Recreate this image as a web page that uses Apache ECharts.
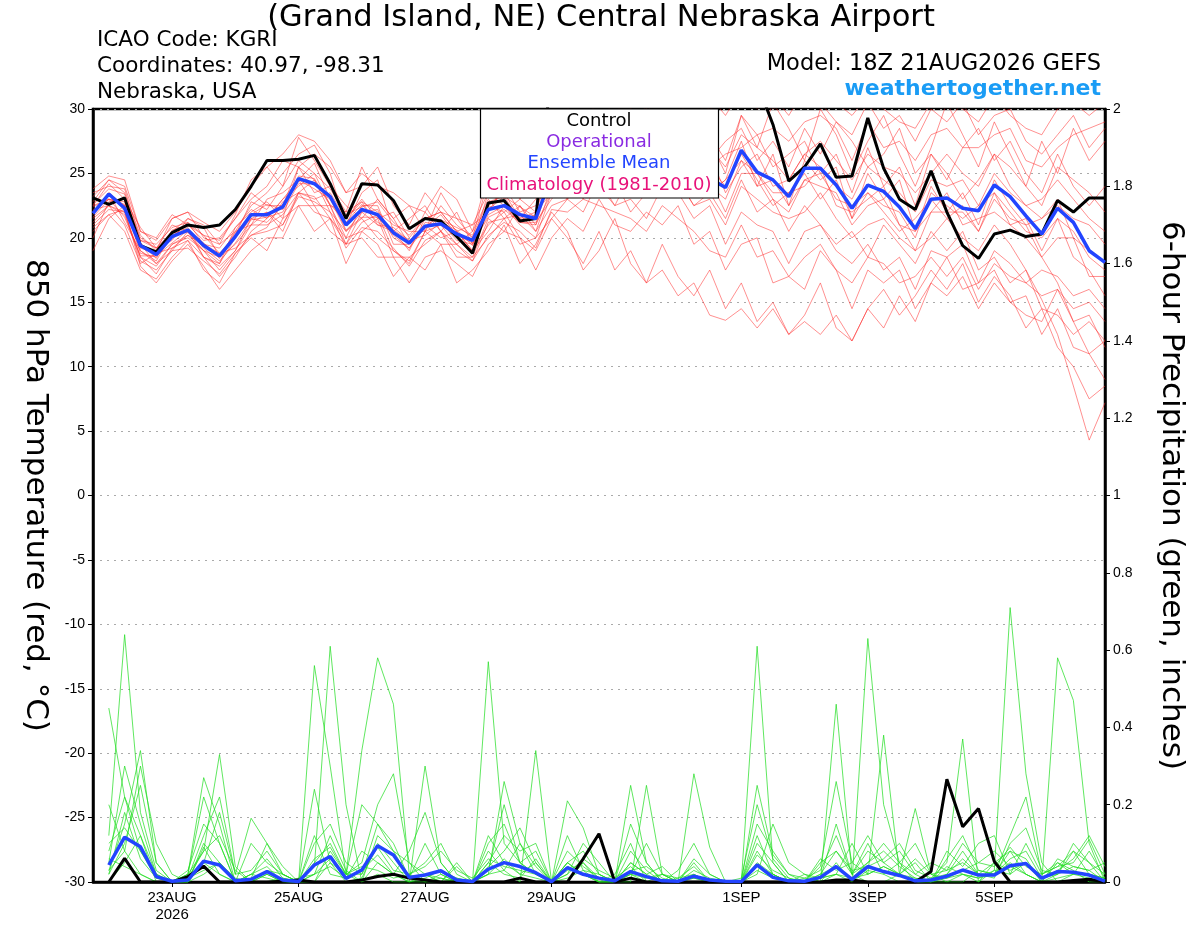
<!DOCTYPE html>
<html><head><meta charset="utf-8">
<script src="https://cdn.jsdelivr.net/npm/echarts@6/dist/echarts.min.js"></script>
<style>html,body{margin:0;padding:0;background:#fff}#c{width:1200px;height:927px}</style>
</head><body><div id="c"></div>
<script>
// ---- time categories (6-hourly, 21AUG2026 18Z .. 7SEP2026 18Z) ----
var dayNames = ['21AUG','22AUG','23AUG','24AUG','25AUG','26AUG','27AUG','28AUG','29AUG','30AUG','31AUG','1SEP','2SEP','3SEP','4SEP','5SEP','6SEP','7SEP'];
var hourNames = ['00Z','06Z','12Z','18Z'];
var categories = ['21AUG 18Z'];
for (var d = 1; d < dayNames.length; d++) { for (var h = 0; h < 4; h++) { categories.push(dayNames[d] + ' ' + hourNames[h]); } }
categories = categories.slice(0, 65);
// tick labels by category index
var tickLabels = {5:'23AUG\n2026', 13:'25AUG', 21:'27AUG', 29:'29AUG', 41:'1SEP', 49:'3SEP', 57:'5SEP'};

// ---- 850 hPa temperature (C) ----
var controlTemp = [23.1,22.6,23.1,19.4,18.9,20.4,21.0,20.8,21.0,22.2,
24.0,26.0,26.0,26.1,26.4,24.2,21.5,24.2,24.1,22.9,
20.7,21.5,21.3,20.1,18.8,22.7,22.9,21.3,21.5,33.0,
32.5,33.5,34.0,33.0,32.0,33.5,34.5,33.0,32.0,33.0,
34.0,33.0,32.0,28.8,24.4,25.5,27.3,24.7,24.8,29.3,
25.4,23.0,22.2,25.2,22.0,19.4,18.4,20.3,20.6,20.1,
20.3,22.9,22.0,23.1,23.1];
var meanTemp = [21.9,23.4,22.3,19.4,18.7,20.1,20.6,19.4,18.6,20.1,
21.8,21.8,22.4,24.6,24.2,23.2,21.0,22.2,21.8,20.4,
19.6,20.9,21.1,20.3,19.8,22.2,22.5,21.8,21.5,24.8,
25.0,25.4,25.8,25.5,25.0,25.3,25.8,25.5,25.0,24.6,
23.9,26.8,25.1,24.5,23.2,25.4,25.4,24.1,22.3,24.1,
23.6,22.4,20.7,23.0,23.1,22.3,22.1,24.1,23.2,21.7,
20.3,22.3,21.2,19.0,18.1];
var mem01 = [22.8,24.5,23.5,20.2,19.0,21.5,22.0,20.0,19.5,21.8,24.5,25.5,24.0,27.8,26.0,24.0,22.0,25.5,23.0,21.5,22.5,20.5,23.5,21.5,20.0,24.5,23.0,25.5,23.5,27.0,25.5,28.0,26.5,29.5,27.0,30.5,28.0,26.5,29.0,27.5,25.0,29.5,27.0,30.5,28.5,26.0,30.0,28.0,25.0,27.5,29.5,26.5,24.0,27.0,30.5,28.0,25.5,29.0,26.5,24.0,27.5,25.0,28.5,26.0,27.5];
var mem02 = [20.5,21.8,20.5,17.5,16.8,18.5,19.8,17.5,16.5,18.8,20.0,19.0,21.5,22.5,20.5,21.5,18.0,20.5,19.5,17.0,18.5,17.5,19.5,16.5,17.5,19.0,21.0,18.0,19.5,22.0,20.5,17.5,19.0,21.5,18.0,16.5,19.5,17.0,15.5,17.5,14.5,16.5,13.5,15.0,12.5,14.0,16.5,13.0,12.0,14.5,16.0,14.0,15.5,17.5,16.0,18.0,15.0,17.0,15.5,13.0,14.5,11.5,10.0,7.5,8.5];
var mem03 = [21.2,22.5,21.8,18.5,17.8,19.5,20.2,19.0,17.5,19.0,21.5,22.0,20.5,23.5,24.5,22.0,20.5,21.5,20.0,19.0,18.0,20.5,21.0,19.5,18.5,21.5,20.5,22.5,20.5,24.0,23.0,25.5,24.0,22.5,25.0,23.5,26.0,24.5,22.5,23.5,21.5,24.5,22.0,23.0,20.5,22.5,21.0,19.5,20.5,18.5,21.0,19.5,18.0,20.5,19.0,20.5,17.5,18.5,16.5,17.5,15.2,12.5,8.5,4.3,7.2];
var mem04 = [23.5,24.0,23.8,19.8,19.2,20.5,21.5,20.8,18.5,20.5,22.5,23.5,25.0,26.5,27.2,25.0,21.0,23.5,24.5,20.5,21.5,22.5,20.5,22.0,19.5,23.5,22.5,21.5,23.0,25.5,27.5,26.0,28.5,27.0,29.0,27.5,26.5,29.5,28.0,26.0,27.5,28.5,26.0,27.5,25.5,28.5,26.5,29.0,27.5,25.5,26.5,28.5,25.0,26.5,24.5,27.0,28.5,26.0,27.5,25.0,23.5,26.5,24.0,22.5,24.0];
var mem05 = [19.0,21.5,22.5,19.5,18.0,19.0,20.5,18.5,17.0,18.5,20.5,21.5,23.0,24.5,22.5,22.5,19.5,22.0,21.0,20.5,19.0,21.5,22.0,20.5,19.0,20.5,22.5,21.0,20.0,23.5,24.5,23.0,25.5,26.5,24.0,25.5,27.5,25.0,23.5,25.5,24.0,26.5,24.5,22.5,23.5,25.0,23.0,24.5,21.5,23.5,22.0,20.5,21.5,23.0,21.5,22.5,20.5,23.5,21.0,20.0,18.5,16.5,13.5,11.0,12.0];
var mem06 = [22.0,23.5,22.5,19.8,19.5,20.8,21.2,20.2,19.8,21.5,23.0,24.0,26.0,25.5,26.5,25.5,23.5,24.0,25.5,22.5,21.0,23.5,22.0,21.5,21.0,23.5,24.5,23.0,24.5,28.0,29.5,28.5,31.0,29.5,31.5,30.0,32.0,30.5,29.0,31.0,29.5,31.5,30.0,31.0,29.5,31.5,30.5,29.0,28.0,30.5,28.5,29.5,27.5,30.0,29.0,30.5,28.0,29.5,30.0,27.5,26.5,28.0,29.5,27.0,28.5];
var mem07 = [21.5,22.5,22.0,18.5,17.2,19.2,20.2,19.5,18.8,19.2,20.2,20.8,22.8,23.5,22.0,21.5,20.0,20.5,21.5,18.5,18.5,19.5,20.5,18.5,18.5,20.0,21.5,19.5,20.0,21.5,23.0,22.0,24.5,22.5,23.0,21.5,24.0,23.5,21.5,22.5,19.5,22.0,21.0,20.5,18.0,20.5,21.0,19.0,18.0,19.5,17.5,18.5,16.0,19.0,18.5,19.5,16.5,19.0,18.0,16.5,17.5,17.0,15.5,16.0,14.5];
var mem08 = [22.5,24.2,23.0,20.8,19.2,19.8,21.5,21.0,19.5,20.5,21.0,23.0,23.5,24.5,25.8,23.0,21.5,23.0,21.5,22.0,20.0,21.5,22.0,20.5,21.0,22.0,24.0,22.0,22.5,24.5,26.0,25.0,27.5,26.5,27.5,25.5,28.0,27.0,28.5,25.5,26.5,27.0,28.0,25.5,26.5,27.5,25.0,26.5,23.5,27.0,24.0,25.5,22.5,26.5,25.0,23.0,24.5,26.5,24.0,22.5,23.0,24.5,23.0,21.5,20.5];
var mem09 = [20.8,21.8,22.2,17.8,16.5,18.2,19.5,17.8,16.0,17.5,19.0,20.0,20.0,22.5,22.5,20.5,19.5,20.0,18.5,18.5,16.5,18.5,19.0,18.0,17.0,19.5,20.5,20.0,17.5,20.0,21.5,20.5,23.0,21.0,20.5,22.0,21.0,22.5,19.5,20.5,17.5,19.5,20.0,16.5,17.0,16.0,19.0,17.5,14.5,17.5,16.5,17.5,14.5,16.5,18.5,16.0,16.5,17.5,15.0,15.5,12.5,14.5,11.5,11.0,9.0];
var mem10 = [23.8,24.8,24.5,20.5,20.0,21.8,21.0,19.8,20.0,21.5,23.5,22.5,22.5,25.5,23.5,24.0,22.5,21.5,23.0,21.5,19.5,22.0,20.5,19.5,20.5,23.0,21.5,22.5,21.0,25.0,24.0,26.5,25.0,24.5,26.5,25.0,27.0,25.5,26.0,23.5,24.5,27.5,24.0,26.5,22.5,26.0,24.5,25.5,21.5,25.0,23.0,24.5,20.5,24.0,22.0,23.5,21.0,24.5,22.5,21.0,21.5,23.0,20.0,19.0,18.0];
var mem11 = [22.0,23.0,22.8,19.2,18.8,20.2,20.8,18.5,18.0,20.8,22.2,21.5,23.0,24.0,25.0,22.5,20.0,22.5,22.5,19.5,19.5,21.0,20.0,20.5,19.0,21.0,22.0,20.0,19.0,21.5,20.0,18.0,20.5,17.5,19.0,16.5,17.5,15.5,16.5,14.0,13.6,14.5,13.0,14.5,12.5,13.5,12.5,14.0,12.0,14.5,13.0,15.5,13.5,16.5,15.5,17.0,14.5,16.5,15.0,14.0,13.5,16.0,14.5,15.0,13.5];
var mem12 = [20.0,22.8,23.0,20.0,19.2,21.0,20.5,19.0,18.5,19.5,21.0,21.0,21.8,23.5,23.0,23.5,21.5,22.8,22.0,21.0,20.5,20.5,22.5,21.0,20.0,22.5,22.0,23.0,22.0,23.5,25.0,24.0,24.5,26.5,25.0,24.0,26.0,24.5,25.0,23.5,24.5,26.0,25.0,23.5,23.5,24.0,25.5,22.5,22.0,23.0,24.0,21.0,20.5,22.0,23.5,21.0,21.5,22.0,21.0,21.5,19.0,21.5,18.5,17.5,15.5];
var mem13 = [22.5,23.0,22.5,18.8,18.5,20.0,21.2,19.5,19.2,20.8,22.0,22.8,21.5,25.5,24.5,22.5,22.0,22.8,21.0,20.8,19.8,20.8,21.8,20.2,19.8,22.5,23.5,21.5,22.0,25.5,26.5,26.0,27.5,28.5,27.0,28.0,28.5,29.5,27.5,28.0,26.0,29.5,28.0,28.5,27.5,29.0,29.5,28.5,26.0,29.0,27.0,27.5,26.0,28.0,28.5,27.0,27.0,28.0,28.5,26.0,25.5,27.0,28.0,28.5,29.0];
var mem14 = [21.8,23.5,21.2,19.0,18.0,19.5,20.0,19.0,18.0,20.0,21.5,21.2,22.5,24.5,23.8,23.0,20.5,22.0,22.2,20.0,19.2,20.8,21.2,19.8,19.5,21.8,22.5,21.2,21.2,23.0,24.5,25.5,25.0,24.0,24.5,25.5,25.0,26.0,24.0,24.5,22.0,25.0,25.0,23.0,22.0,24.5,24.0,23.5,21.0,22.5,23.0,21.0,19.0,22.0,22.0,22.0,20.5,23.0,21.5,21.0,18.5,20.0,20.0,17.0,17.0];
var mem15 = [23.2,24.5,24.0,20.5,19.8,21.5,22.0,21.2,20.5,22.0,24.0,25.5,26.5,28.0,27.5,26.0,23.5,25.0,24.0,23.5,22.5,22.0,24.0,23.0,20.5,25.0,26.5,24.5,25.5,28.5,30.0,31.0,30.5,32.0,30.0,31.5,32.5,31.5,30.5,30.0,30.5,32.0,31.5,30.0,30.5,32.0,31.0,30.5,29.5,31.0,30.0,29.0,28.5,30.5,31.0,30.0,29.0,31.0,29.5,28.5,28.0,30.0,30.5,29.5,30.5];
var mem16 = [22.2,22.5,21.0,18.0,18.8,19.2,19.8,18.5,17.8,19.0,21.0,22.0,21.0,23.5,23.2,21.5,19.5,21.2,21.8,19.0,18.2,20.5,19.5,19.5,18.2,21.2,21.5,21.8,20.5,22.5,23.0,24.5,23.5,24.5,22.0,23.5,23.5,24.5,22.5,23.0,21.0,24.0,23.0,22.0,21.5,22.0,23.5,21.5,20.0,21.0,21.5,20.0,19.0,20.0,21.5,20.0,19.0,21.0,19.5,17.5,14.5,14.0,12.5,13.5,12.0];
var mem17 = [22.6,23.8,23.4,19.6,18.4,20.6,21.0,20.2,18.8,20.2,22.8,22.2,24.0,26.0,25.0,23.8,21.8,22.4,22.8,21.2,20.2,21.6,21.4,20.8,20.2,22.8,23.2,22.4,21.6,24.5,25.5,27.0,26.0,27.5,26.0,27.0,28.5,27.5,26.5,27.0,25.5,28.0,27.0,26.0,24.5,26.5,27.5,26.0,24.5,26.5,25.5,25.0,23.5,25.0,26.5,25.0,24.0,26.5,25.5,24.0,22.5,25.5,24.5,23.5,22.0];
var mem18 = [21.0,22.2,22.0,18.2,17.5,19.0,19.2,18.2,17.2,18.8,20.2,20.5,21.0,23.2,22.8,22.0,19.2,20.8,20.5,19.2,17.8,19.8,20.5,19.0,18.2,20.2,21.2,20.5,19.2,22.2,22.0,23.0,22.5,22.0,21.5,20.5,22.5,21.5,20.5,19.0,18.5,21.0,18.5,19.0,17.0,18.5,19.5,17.5,16.5,18.5,18.0,16.5,17.0,18.5,17.0,18.5,16.0,18.0,17.0,16.5,15.5,16.0,13.5,14.0,11.5];
var mem19 = [22.4,23.0,22.6,19.0,18.2,20.4,20.4,19.6,18.4,20.4,21.8,22.6,22.2,24.8,24.6,22.6,21.2,22.6,21.2,20.6,19.8,20.2,21.2,20.6,19.4,22.2,23.2,21.4,21.8,24.0,26.0,24.5,26.5,25.0,26.0,27.5,25.0,26.5,25.5,26.5,23.5,25.5,26.5,24.0,24.5,26.5,25.5,24.0,23.0,25.5,24.5,23.5,22.0,24.5,24.0,24.5,22.5,25.0,23.5,22.5,21.5,22.5,21.5,21.0,19.5];
var mem20 = [21.6,23.0,21.6,18.6,18.6,19.6,20.6,19.2,18.2,19.6,21.4,21.6,22.0,24.2,24.2,23.2,20.6,21.6,21.6,20.2,19.2,21.2,21.0,20.2,19.6,21.6,22.2,21.2,21.0,23.5,24.5,24.0,26.0,25.0,23.5,24.5,26.5,25.0,24.5,24.0,23.0,26.0,24.0,24.5,22.5,24.5,25.0,23.0,22.5,23.5,22.5,22.0,20.0,23.5,22.5,21.5,22.5,23.5,22.0,20.5,20.0,21.5,20.5,18.5,17.5];
var tempMembers = [mem01,mem02,mem03,mem04,mem05,mem06,mem07,mem08,mem09,mem10,mem11,mem12,mem13,mem14,mem15,mem16,mem17,mem18,mem19,mem20];

// ---- 6-hour precipitation (inches) ----
var controlPrecip = [null,0,0.061,0,0,0,0.014,0.041,0,0,
0,0,0.002,0.005,0,0,0,0.005,0.014,0.02,
0.01,0.005,0,0,0,0,0,0.01,0,0,
0,0.06,0.125,0,0.01,0,0,0,0,0,
0,0,0,0,0,0,0,0.005,0.005,0,
0,0,0,0.027,0.266,0.143,0.19,0.053,0,0,
0,0,0.004,0.007,0];
var meanPrecip = [null,0.044,0.116,0.091,0.014,0.002,0.005,0.054,0.044,0.003,
0.007,0.027,0.005,0.001,0.044,0.066,0.009,0.031,0.094,0.07,
0.012,0.018,0.029,0.005,0.001,0.033,0.05,0.04,0.024,0.001,
0.037,0.02,0.01,0.003,0.027,0.014,0.003,0.002,0.015,0.005,
0.002,0.001,0.044,0.012,0.003,0.002,0.012,0.04,0.007,0.04,
0.027,0.017,0.003,0.005,0.015,0.031,0.018,0.018,0.042,0.048,
0.01,0.027,0.025,0.018,0.002];
var prA = [null,0.45,0.22,0.08,0.02, 0,0,0.05,0.02,0, 0,0,0,0,0.56, 0.30,0.02,0,0.05,0.02, 0,0,0.01,0,0, 0.08,0.03,0,0.34,0, 0.05,0.02,0,0,0.02, 0,0,0,0.01,0, 0,0,0.08,0.02,0, 0,0,0.05,0,0.63, 0.20,0.05,0,0,0, 0.02,0,0.05,0.08,0.02, 0,0.05,0.03,0,0];
var prB = [null,0.12,0.64,0.18,0.03, 0,0,0.10,0.05,0, 0.02,0.01,0,0,0.04, 0.61,0.20,0,0.02,0, 0,0.30,0.05,0,0, 0.02,0.26,0.10,0.02,0, 0,0.05,0,0,0.25, 0.05,0,0,0.02,0, 0,0,0.61,0.05,0, 0,0.01,0.02,0,0.03, 0.02,0,0,0,0.04, 0.02,0.01,0.03,0.71,0.28, 0.05,0,0.02,0.01,0];
var prC = [null,0.03,0.15,0.34,0.05, 0,0.01,0.08,0.33,0.04, 0,0.02,0,0,0, 0.05,0.02,0.34,0.58,0.46, 0.02,0,0,0.05,0, 0.57,0.10,0.05,0.02,0, 0.21,0.14,0.02,0,0, 0.25,0.02,0,0.05,0, 0,0,0.02,0.15,0.05, 0.02,0,0.46,0.02,0, 0,0.02,0.19,0.02,0, 0,0.03,0.02,0.05,0.02, 0,0.58,0.47,0.10,0];
var prD = [null,0.08,0.22,0.12,0, 0,0.02,0.27,0.15,0, 0.10,0.05,0.02,0,0.24, 0.05,0,0.01,0.10,0.05, 0,0.02,0,0.04,0, 0.04,0.08,0.14,0.05,0, 0.04,0.02,0,0.02,0.10, 0,0.02,0,0.28,0.09, 0,0,0.12,0.02,0, 0,0.04,0.26,0.05,0.02, 0.38,0.02,0,0.01,0.05, 0.37,0,0.03,0.02,0.10, 0.02,0.04,0.05,0.11,0.02];
var prE = [null,0.02,0.18,0.06,0.01, 0,0.01,0.12,0.22,0.02, 0.165,0.10,0.02,0,0, 0.08,0.02,0.20,0.15,0.08, 0.05,0,0.02,0,0, 0.05,0.12,0.08,0.10,0, 0.05,0.08,0.02,0,0.05, 0.02,0,0,0.06,0.02, 0,0,0.15,0.08,0.02, 0.01,0.03,0.12,0.02,0.05, 0.10,0.05,0.02,0,0.02, 0.08,0.02,0.01,0.10,0.14, 0.03,0.02,0.08,0.05,0];
var prF = [null,0.20,0.08,0.02,0, 0,0.03,0.15,0.10,0, 0.02,0.06,0.01,0,0.10, 0.15,0.05,0.02,0.09,0.03, 0.02,0.05,0.10,0.02,0, 0.02,0.06,0.02,0.05,0, 0.02,0.10,0.05,0,0.15, 0.05,0,0.03,0.10,0.02, 0,0,0.25,0.07,0.02, 0,0.05,0.08,0.02,0.10, 0.02,0.05,0.10,0.02,0.03, 0.05,0.02,0.02,0.08,0.06, 0,0.02,0.10,0.05,0.02];
var prG = [null,0.05,0.30,0.15,0.02, 0,0.01,0.03,0.05,0.01, 0,0.02,0,0,0.02, 0.12,0.03,0,0.12,0.08, 0.01,0.10,0.02,0,0, 0.12,0.05,0.02,0.01,0, 0.03,0.05,0.01,0,0.05, 0.02,0.04,0,0.01,0, 0,0,0.10,0.05,0, 0.02,0.01,0.15,0.02,0.08, 0.05,0.02,0.05,0,0.06, 0.12,0.03,0.02,0.12,0.22, 0.02,0.05,0.02,0.08,0.01];
var prH = [null,0.02,0.10,0.25,0.05, 0,0,0.05,0.18,0.02, 0.03,0.08,0.02,0,0.06, 0.09,0.02,0.05,0.20,0.28, 0.05,0.02,0,0.01,0, 0.03,0.20,0.05,0.08,0, 0.12,0.03,0,0,0.02, 0.10,0.02,0.01,0.04,0, 0,0,0.05,0.02,0, 0,0.02,0.08,0.03,0.04, 0.06,0.10,0.03,0.01,0.02, 0.06,0.02,0.05,0.03,0.05, 0.01,0.03,0.06,0.12,0.04];
var prI = [null,0,0.05,0.12,0.02, 0,0.02,0.22,0.10,0, 0.02,0.04,0,0.01,0.02, 0.04,0.01,0.08,0.05,0.02, 0.08,0.18,0.05,0,0, 0.02,0.03,0.10,0.04,0, 0.02,0.06,0.03,0.01,0.04, 0,0,0,0.03,0.01, 0,0,0.03,0.01,0, 0.01,0,0.02,0.10,0.02, 0.04,0.02,0.01,0,0.08, 0.04,0.10,0.12,0.02,0.05, 0,0.01,0.02,0.02,0.01];
var prJ = [null,0.10,0.14,0.08,0.01, 0,0,0.02,0.05,0, 0.01,0.10,0.04,0,0.02, 0.06,0.02,0.04,0.03,0.01, 0.02,0.04,0.08,0.03,0.01, 0.06,0.04,0.03,0.02,0, 0.08,0.04,0.01,0,0.03, 0.04,0.01,0,0,0, 0,0,0.07,0.03,0.01, 0,0.02,0.04,0.01,0.05, 0.08,0.04,0.01,0,0.01, 0.02,0.01,0.02,0.06,0.08, 0.01,0.02,0.04,0.03,0];
var prK = [null,0.03,0.08,0.30,0.10, 0.02,0,0.09,0.02,0, 0,0,0.01,0,0.05, 0.10,0.02,0.02,0.15,0.10, 0.01,0.02,0.01,0,0, 0.10,0.15,0.05,0.02,0, 0.05,0.02,0,0,0.08, 0.03,0,0.01,0.02,0, 0,0.01,0.20,0.06,0.01, 0,0.01,0.02,0.01,0.02, 0.04,0.02,0.06,0.02,0.01, 0.03,0.05,0.08,0.04,0.02, 0,0.06,0.04,0.03,0.05];
var prL = [null,0.06,0.04,0.02,0, 0,0.02,0.08,0.12,0.03, 0,0.03,0.02,0,0.12, 0.02,0.01,0.03,0.07,0.02, 0,0.01,0.03,0.01,0, 0.05,0.02,0.01,0.06,0, 0.01,0.03,0.02,0,0.02, 0.01,0.02,0,0,0, 0,0,0.04,0.02,0, 0,0.06,0.03,0.05,0.12, 0.05,0.08,0.02,0.05,0.03, 0.10,0.05,0.04,0.09,0.04, 0.02,0.04,0.08,0.02,0.01];
var precipMembers = [prA,prB,prC,prD,prE,prF,prG,prH,prI,prJ,prK,prL];

// ---- build chart ----
var FONT = '"Liberation Sans", Arial, Helvetica, sans-serif';
var WIDE = '"DejaVu Sans", Verdana, sans-serif';
var series = [];
tempMembers.forEach(function (m) {
  series.push({type:'line', yAxisIndex:0, data:m, showSymbol:false, symbol:'none', silent:true,
    lineStyle:{color:'#ff2a2a', width:0.7, opacity:0.75}, z:2});
});
precipMembers.forEach(function (m) {
  series.push({type:'line', yAxisIndex:1, data:m, showSymbol:false, symbol:'none', silent:true,
    lineStyle:{color:'#22dd22', width:0.8, opacity:0.9}, z:2});
});
series.push({name:'Control', type:'line', yAxisIndex:0, data:controlTemp, showSymbol:false, symbol:'none',
  lineStyle:{color:'#000', width:3}, z:3});
series.push({name:'Ensemble Mean', type:'line', yAxisIndex:0, data:meanTemp, showSymbol:false, symbol:'none',
  lineStyle:{color:'#2244ff', width:3.5}, z:4});
series.push({name:'Control precip', type:'line', yAxisIndex:1, data:controlPrecip, showSymbol:false, symbol:'none',
  lineStyle:{color:'#000', width:3}, z:3});
series.push({name:'Ensemble Mean precip', type:'line', yAxisIndex:1, data:meanPrecip, showSymbol:false, symbol:'none',
  lineStyle:{color:'#2244ff', width:3.5}, z:4});

function isTick(idx) { return tickLabels[idx] !== undefined; }

var chart = echarts.init(document.getElementById('c'), null, {renderer:'canvas'});
chart.setOption({
  animation:false,
  backgroundColor:'#fff',
  textStyle:{fontFamily:FONT},
  grid:{left:93, right:95, top:109, bottom:45, show:true, borderColor:'#000', borderWidth:2.5, backgroundColor:'transparent'},
  xAxis:{type:'category', data:categories, boundaryGap:false,
    axisLine:{onZero:false, lineStyle:{color:'#000', width:2.5}},
    axisTick:{show:true, interval:isTick, length:5, lineStyle:{color:'#000', width:1}},
    axisLabel:{interval:isTick, formatter:function(v, idx){ return tickLabels[idx] || ''; },
      color:'#000', fontSize:15, fontFamily:FONT, lineHeight:17, margin:7},
    splitLine:{show:false}},
  yAxis:[
    {type:'value', min:-30, max:30, interval:5, position:'left',
     name:'850 hPa Temperature (red, \u00B0C)', nameLocation:'middle', nameRotate:-90, nameGap:42,
     nameTextStyle:{fontSize:31, color:'#000', fontFamily:WIDE},
     axisLine:{show:true, onZero:false, lineStyle:{color:'#000', width:2.5}},
     axisTick:{show:true, length:5, lineStyle:{color:'#000'}},
     axisLabel:{color:'#000', fontSize:14, fontFamily:FONT, margin:8},
     splitLine:{show:true, lineStyle:{color:'#aaa', type:[2,5], width:1.2}}},
    {type:'value', min:0, max:2, interval:0.2, position:'right',
     name:'6-hour Precipitation (green, inches)', nameLocation:'middle', nameRotate:-90, nameGap:51,
     nameTextStyle:{fontSize:31, color:'#000', fontFamily:WIDE},
     axisLine:{show:true, onZero:false, lineStyle:{color:'#000', width:2.5}},
     axisTick:{show:true, length:5, lineStyle:{color:'#000'}},
     axisLabel:{color:'#000', fontSize:14, fontFamily:FONT, margin:8},
     splitLine:{show:false}}
  ],
  graphic:[
    {type:'text', x:601, y:18, z:100, style:{text:'(Grand Island, NE) Central Nebraska Airport', fill:'#000', font:'30.5px '+WIDE, align:'center', verticalAlign:'middle'}},
    {type:'text', x:97, y:40, z:100, style:{text:'ICAO Code: KGRI', fill:'#000', font:'21.5px '+WIDE, align:'left', verticalAlign:'middle'}},
    {type:'text', x:97, y:66, z:100, style:{text:'Coordinates: 40.97, -98.31', fill:'#000', font:'21.5px '+WIDE, align:'left', verticalAlign:'middle'}},
    {type:'text', x:97, y:92, z:100, style:{text:'Nebraska, USA', fill:'#000', font:'21.5px '+WIDE, align:'left', verticalAlign:'middle'}},
    {type:'text', x:1101, y:64, z:100, style:{text:'Model: 18Z 21AUG2026 GEFS', fill:'#000', font:'22.5px '+WIDE, align:'right', verticalAlign:'middle'}},
    {type:'text', x:1101, y:89, z:100, style:{text:'weathertogether.net', fill:'#1a9cf5', font:'bold 22px '+WIDE, align:'right', verticalAlign:'middle'}},
    {type:'rect', z:100, shape:{x:480.5, y:109, width:238, height:89}, style:{fill:'#fff', stroke:'#000', lineWidth:1.2}},
    {type:'text', x:599, y:121, z:101, style:{text:'Control', fill:'#000', font:'18px '+WIDE, align:'center', verticalAlign:'middle'}},
    {type:'text', x:599, y:142, z:101, style:{text:'Operational', fill:'#8a2be2', font:'18px '+WIDE, align:'center', verticalAlign:'middle'}},
    {type:'text', x:599, y:163, z:101, style:{text:'Ensemble Mean', fill:'#2244ff', font:'18px '+WIDE, align:'center', verticalAlign:'middle'}},
    {type:'text', x:599, y:185, z:101, style:{text:'Climatology (1981-2010)', fill:'#e8127a', font:'18px '+WIDE, align:'center', verticalAlign:'middle'}}
  ],
  series:series
});
</script></body></html>
